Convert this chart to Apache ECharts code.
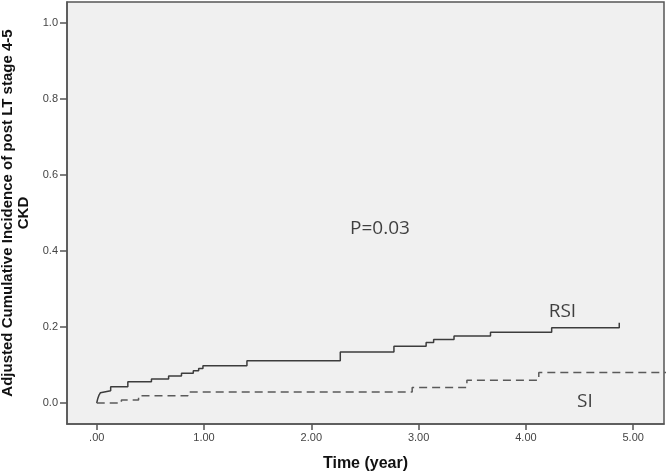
<!DOCTYPE html>
<html>
<head>
<meta charset="utf-8">
<script src="https://cdn.jsdelivr.net/npm/echarts@6/dist/echarts.min.js"></script>
<style>
html,body{margin:0;padding:0;background:#fff;}
#chart{width:666px;height:473px;}
</style>
</head>
<body>
<div id="chart"></div>
<script>
// Data
const rsiTime  = [0, 0.01, 0.02, 0.035, 0.05, 0.13, 0.29, 0.51, 0.67, 0.79, 0.90, 0.95, 0.99, 1.40, 2.27, 2.77, 3.07, 3.14, 3.33, 3.67, 4.24, 4.87];
const rsiValue = [0, 0.012, 0.020, 0.027, 0.032, 0.043, 0.056, 0.063, 0.071, 0.078, 0.085, 0.091, 0.098, 0.111, 0.134, 0.149, 0.159, 0.167, 0.176, 0.186, 0.198, 0.211];
const siTime   = [0, 0.23, 0.39, 0.85, 2.94, 3.45, 4.12, 5.40];
const siValue  = [0, 0.008, 0.019, 0.029, 0.041, 0.060, 0.080, 0.080];
const xTicks = [0, 1, 2, 3, 4, 5];
const yTicks = [0, 0.2, 0.4, 0.6, 0.8, 1.0];
const xTitle = 'Time (year)';
const yTitle = 'Adjusted Cumulative Incidence of post LT stage 4-5\nCKD';
const annotations = [
  {text: 'P=0.03', x: 2.64, y: 0.46},
  {text: 'RSI', x: 4.34, y: 0.24},
  {text: 'SI', x: 4.55, y: 0.004}
];

const rsiData = rsiTime.map((t, i) => [t, rsiValue[i]]);
const siData = siTime.map((t, i) => [t, siValue[i]]);

const chart = echarts.init(document.getElementById('chart'), null, {renderer: 'canvas'});
const axisLabelStyle = {color: '#444', fontFamily: 'Liberation Sans, Arial, sans-serif', fontSize: 11};
chart.setOption({
  animation: false,
  backgroundColor: '#ffffff',
  grid: {
    left: 67, right: 2, top: 2, bottom: 49,
    containLabel: false, outerBoundsMode: 'none',
    show: true, backgroundColor: '#f0f0f0', borderColor: '#555', borderWidth: 1.5
  },
  xAxis: {
    type: 'value', min: -0.277, max: 5.287,
    axisLine: {show: true, onZero: false, lineStyle: {color: '#555', width: 1.5}},
    axisTick: {show: true, customValues: xTicks, length: 6, lineStyle: {color: '#555', width: 1.5}},
    axisLabel: {customValues: xTicks, margin: 8, ...axisLabelStyle,
      formatter: v => v === 0 ? '.00' : v.toFixed(2)},
    splitLine: {show: false},
    name: xTitle, nameLocation: 'middle', nameGap: 32,
    nameTextStyle: {fontFamily: 'Liberation Sans, Arial, sans-serif', fontWeight: 'bold', fontSize: 16, color: '#111'}
  },
  yAxis: {
    type: 'value', min: -0.0553, max: 1.0553,
    axisLine: {show: true, onZero: false, lineStyle: {color: '#555', width: 1.5}},
    axisTick: {show: true, customValues: yTicks, length: 7, lineStyle: {color: '#555', width: 1.5}},
    axisLabel: {customValues: yTicks, margin: 9, ...axisLabelStyle,
      formatter: v => v.toFixed(1)},
    splitLine: {show: false},
    name: yTitle, nameLocation: 'middle', nameGap: 31, nameRotate: 90,
    nameTextStyle: {fontFamily: 'Liberation Sans, Arial, sans-serif', fontWeight: 'bold', fontSize: 15, color: '#111', lineHeight: 16, align: 'center', padding: [0, 0, 0, 0]}
  },
  series: [
    {
      name: 'RSI', type: 'line', step: 'end', data: rsiData,
      showSymbol: false, symbol: 'none', clip: true,
      lineStyle: {color: '#3c3c3c', width: 1.5}
    },
    {
      name: 'SI', type: 'line', step: 'end', data: siData,
      showSymbol: false, symbol: 'none', clip: true,
      lineStyle: {color: '#5a5a5a', width: 1.5, type: [8, 5]}
    },
    {
      type: 'scatter', symbolSize: 0, silent: true,
      data: annotations.map(a => ({value: [a.x, a.y], name: a.text})),
      label: {show: true, position: 'inside', formatter: p => p.name,
        fontFamily: 'Open Sans, sans-serif', fontSize: 19, color: '#111'}
    }
  ]
});
</script>
</body>
</html>
